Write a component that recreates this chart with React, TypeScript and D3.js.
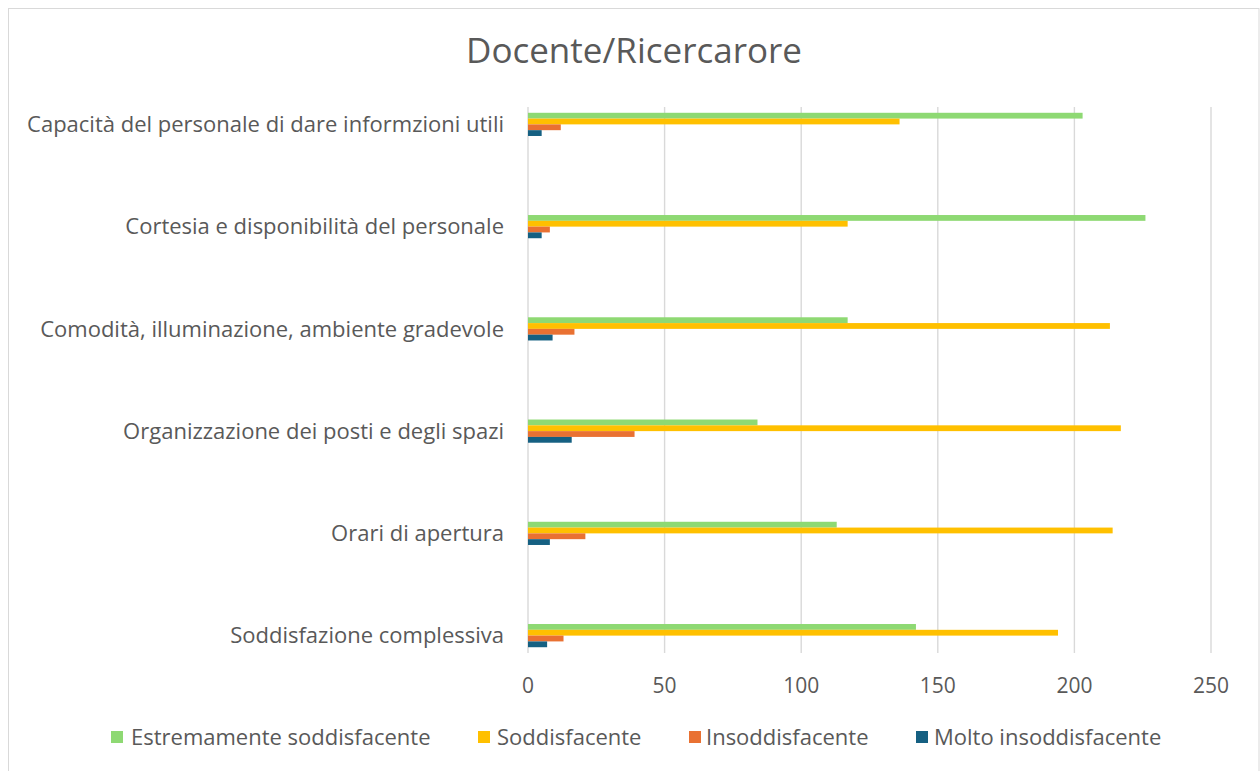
import React from "react";
import * as d3 from "d3";

const categories = [
  "Capacità del personale di dare informzioni utili",
  "Cortesia e disponibilità del personale",
  "Comodità, illuminazione, ambiente gradevole",
  "Organizzazione dei posti e degli spazi",
  "Orari di apertura",
  "Soddisfazione complessiva",
];

const seriesNames = [
  "Estremamente soddisfacente",
  "Soddisfacente",
  "Insoddisfacente",
  "Molto insoddisfacente",
];

const estremamente = [203, 226, 117, 84, 113, 142];
const soddisfacente = [136, 117, 213, 217, 214, 194];
const insoddisfacente = [12, 8, 17, 39, 21, 13];
const moltoInsoddisfacente = [5, 5, 9, 16, 8, 7];

const xTicks = [0, 50, 100, 150, 200, 250];

const colors = ["#8ED973", "#FFC000", "#E97132", "#156082"];

const FONT = "'Open Sans', 'Noto Sans', sans-serif";

export default function App() {
  const W = 1260;
  const H = 771;
  const left = 528;
  const right = 1211;
  const top = 107;
  const bottom = 653;

  const x = d3.scaleLinear().domain([0, 250]).range([left, right]);
  const y = d3.scalePoint<string>().domain(categories).range([top, bottom]).padding(0.17);
  const barH = 5.8;
  const series = [estremamente, soddisfacente, insoddisfacente, moltoInsoddisfacente];

  const legendItems = [
    { x: 111, tx: 131 },
    { x: 478, tx: 497 },
    { x: 689, tx: 706 },
    { x: 916, tx: 934 },
  ];

  return (
    <svg
      width={W}
      height={H}
      style={{ position: "absolute", left: 0, top: 0, background: "#fff" }}
      fontFamily={FONT}
    >
      <rect x={8.5} y={8.5} width={1250.5} height={780} fill="#fff" stroke="#D9D9D9" strokeWidth={1} />
      <text x={634} y={63} textAnchor="middle" fontSize={35} fill="#595959">
        Docente/Ricercarore
      </text>
      {xTicks.map((t) => (
        <line key={t} x1={x(t)} x2={x(t)} y1={top} y2={bottom} stroke="#D9D9D9" strokeWidth={1.4} />
      ))}
      {categories.map((c, i) => {
        const cy = y(c)!;
        return (
          <g key={c}>
            {series.map((s, j) => (
              <rect
                key={j}
                x={x(0)}
                y={cy - 2 * barH + j * barH}
                width={x(s[i]) - x(0)}
                height={barH}
                fill={colors[j]}
              />
            ))}
            <text x={504} y={cy} dy="0.35em" textAnchor="end" fontSize={22} fill="#595959">
              {c}
            </text>
          </g>
        );
      })}
      {xTicks.map((t) => (
        <text key={t} x={x(t)} y={693} textAnchor="middle" fontSize={21} fill="#595959">
          {t}
        </text>
      ))}
      {seriesNames.map((n, j) => (
        <g key={n}>
          <rect x={legendItems[j].x} y={731} width={12} height={12} fill={colors[j]} />
          <text x={legendItems[j].tx} y={737} dy="0.35em" fontSize={22} fill="#595959">
            {n}
          </text>
        </g>
      ))}
    </svg>
  );
}
